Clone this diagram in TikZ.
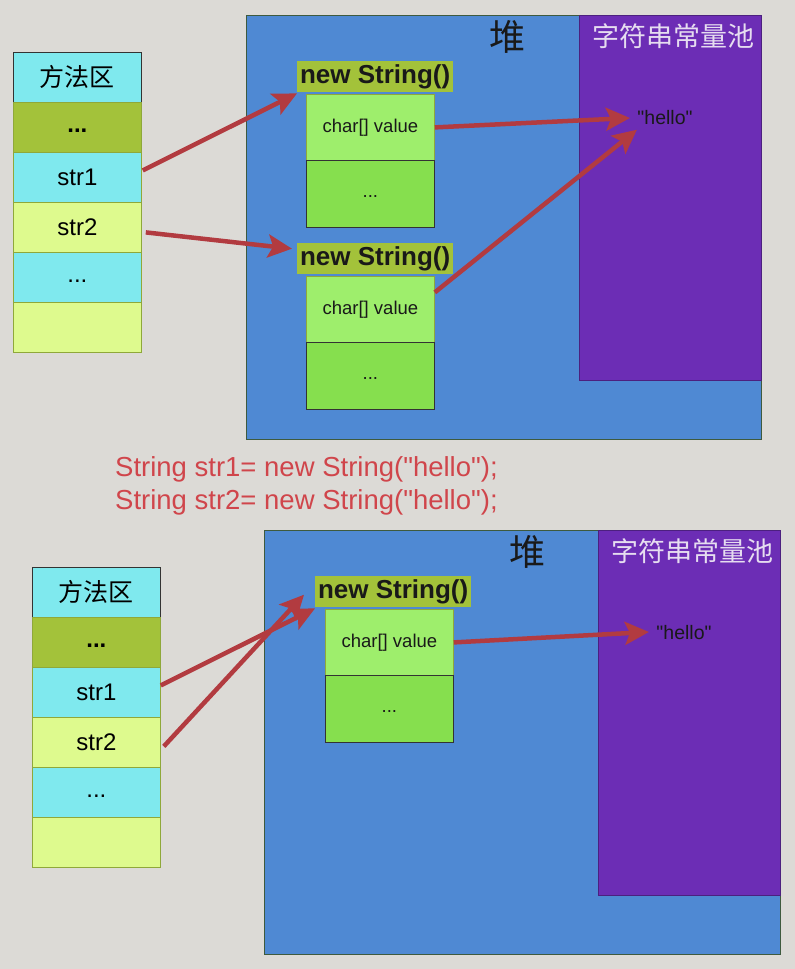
\documentclass[tikz,border=0pt]{standalone}
\usepackage{fontspec}
\setmainfont{Liberation Sans}[Ligatures=TeXOff]
\newfontfamily\cjk{Noto Sans CJK SC}
\usetikzlibrary{arrows.meta,calc}
\newcommand\celldots[1]{\raisebox{-#1}{...}}
\definecolor{bgc}{HTML}{DCDAD6}
\definecolor{cyanc}{HTML}{7FE9EE}
\definecolor{olivec}{HTML}{A3C23A}
\definecolor{ylwc}{HTML}{DEFA8E}
\definecolor{heapc}{HTML}{4F89D3}
\definecolor{poolc}{HTML}{6C2DB5}
\definecolor{pooltxt}{HTML}{E6DDF0}
\definecolor{lgreen}{HTML}{9EEE6C}
\definecolor{dgreen}{HTML}{86DF4E}
\definecolor{arrowc}{HTML}{B23B40}
\definecolor{codec}{HTML}{D0454B}
\definecolor{cellb}{HTML}{8FA83A}
\definecolor{heapb}{HTML}{3E5A3E}
\begin{document}
\begin{tikzpicture}[x=1pt,y=-1pt,
  cell/.style={draw=cellb, line width=0.8pt, minimum width=128pt, minimum height=50pt, inner sep=0pt, anchor=north west, font=\fontsize{24}{28}\selectfont},
  heapbox/.style={draw=heapb, line width=0.8pt, fill=heapc, anchor=north west, inner sep=0pt},
  poolbox/.style={draw=poolc!70!black, line width=0.6pt, fill=poolc, anchor=north west, inner sep=0pt},
  heaplbl/.style={font=\cjk\fontsize{36}{40}\selectfont, text=black!90},
  poollbl/.style={font=\cjk\fontsize{27}{30}\selectfont, text=pooltxt},
  nslbl/.style={fill=olivec, inner sep=0pt, minimum width=156pt, minimum height=31pt, anchor=north west, font=\bfseries\fontsize{26}{30}\selectfont, text=black!90},
  cvbox/.style={draw=cellb, line width=0.8pt, fill=lgreen, minimum width=128pt, minimum height=66pt, inner sep=0pt, anchor=north west, font=\fontsize{18.5}{22}\selectfont, text=black!90},
  dotbox/.style={draw=black!80, line width=0.8pt, fill=dgreen, minimum width=128pt, minimum height=67pt, inner sep=0pt, anchor=north west, font=\fontsize{18.5}{22}\selectfont, text=black!90},
  hello/.style={font=\fontsize{19.5}{22}\selectfont, text=black!90},
  arr/.style={draw=arrowc, line width=4.5pt, -{Stealth[length=24pt,width=23pt,inset=5pt]}},
  codetxt/.style={font=\fontsize{27.5}{33}\selectfont, text=codec, align=left, anchor=north west, inner sep=0pt}
]
\useasboundingbox[fill=bgc] (0,0) rectangle (795,969);

% ---------- top ----------
\node[heapbox, minimum width=515pt, minimum height=424pt] (heapA) at (246,15) {};
\node[poolbox, minimum width=182pt, minimum height=365pt] (poolA) at (579,15) {};
\node[heaplbl] (heapAl) at (507,37) {堆};
\node[poollbl] (poolAl) at (673,36) {字符串常量池};

\node[cell, fill=cyanc, draw=black!80, font=\cjk\fontsize{25}{28}\selectfont] (mA0) at (13,52) {方法区};
\node[cell, fill=olivec, font=\bfseries\fontsize{24}{28}\selectfont] (mA1) at (13,102) {\celldots{10pt}};
\node[cell, fill=cyanc] (mA2) at (13,152) {str1};
\node[cell, fill=ylwc] (mA3) at (13,202) {str2};
\node[cell, fill=cyanc] (mA4) at (13,252) {\celldots{11pt}};
\node[cell, fill=ylwc] (mA5) at (13,302) {};

\node[nslbl] (nsA1) at (297,61) {new String()};
\node[cvbox] (cvA1) at (306,94) {char[] value};
\node[dotbox] (dtA1) at (306,160) {\celldots{8pt}};
\node[nslbl] (nsA2) at (297,243) {new String()};
\node[cvbox] (cvA2) at (306,276) {char[] value};
\node[dotbox] (dtA2) at (306,342) {\celldots{8pt}};

\node[hello] (helloA) at (665,118) {"hello"};

\draw[arr] ($(mA2.east)+(1,-7)$) -- ($(nsA1.south west)+(0,1)$);
\draw[arr] ($(mA3.east)+(4,5)$) -- ($(nsA2.west)+(-5,-10)$);
\draw[arr] (cvA1.east) -- ($(helloA.west)+(-4,0)$);
\draw[arr] ($(cvA2.east)+(0,-17)$) -- ($(helloA.south west)+(3,1)$);

% ---------- code ----------
\node[codetxt] (code) at (115,456) {String str1= new String("hello");\\String str2= new String("hello");};

% ---------- bottom ----------
\node[heapbox, minimum width=516pt, minimum height=424pt] (heapB) at (264,530) {};
\node[poolbox, minimum width=182pt, minimum height=365pt] (poolB) at (598,530) {};
\node[heaplbl] (heapBl) at (527,552) {堆};
\node[poollbl] (poolBl) at (692,551) {字符串常量池};

\node[cell, fill=cyanc, draw=black!80, font=\cjk\fontsize{25}{28}\selectfont] (mB0) at (32,567) {方法区};
\node[cell, fill=olivec, font=\bfseries\fontsize{24}{28}\selectfont] (mB1) at (32,617) {\celldots{10pt}};
\node[cell, fill=cyanc] (mB2) at (32,667) {str1};
\node[cell, fill=ylwc] (mB3) at (32,717) {str2};
\node[cell, fill=cyanc] (mB4) at (32,767) {\celldots{11pt}};
\node[cell, fill=ylwc] (mB5) at (32,817) {};

\node[nslbl] (nsB) at (315,576) {new String()};
\node[cvbox] (cvB) at (325,609) {char[] value};
\node[dotbox] (dtB) at (325,675) {\celldots{8pt}};

\node[hello] (helloB) at (684,633) {"hello"};

\draw[arr] ($(mB2.east)+(0,-7)$) -- ($(nsB.south west)+(0,1)$);
\draw[arr] ($(mB3.east)+(3,4)$) -- ($(nsB.west)+(-11,3)$);
\draw[arr] (cvB.east) -- ($(helloB.west)+(-4,-1)$);
\end{tikzpicture}
\end{document}
